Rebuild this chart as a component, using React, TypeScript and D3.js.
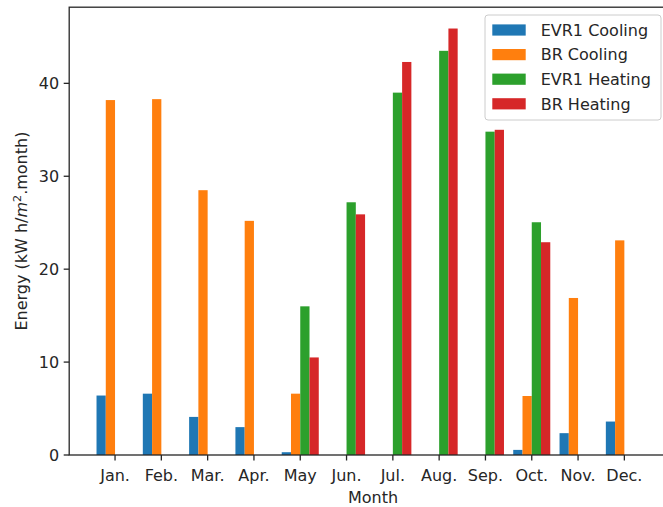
import React from 'react';
import * as d3 from 'd3';

const months = ['Jan.', 'Feb.', 'Mar.', 'Apr.', 'May', 'Jun.', 'Jul.', 'Aug.', 'Sep.', 'Oct.', 'Nov.', 'Dec.'];

const evr1Cooling = [6.4, 6.6, 4.1, 3.0, 0.3, 0, 0, 0, 0, 0.55, 2.35, 3.6];
const brCooling = [38.2, 38.3, 28.5, 25.2, 6.6, 0, 0, 0, 0, 6.35, 16.9, 23.1];
const evr1Heating = [0, 0, 0, 0, 16.0, 27.2, 39.0, 43.5, 34.8, 25.05, 0, 0];
const brHeating = [0, 0, 0, 0, 10.5, 25.9, 42.3, 45.9, 35.0, 22.9, 0, 0];

const yTicks = [0, 10, 20, 30, 40];

const seriesNames = ['EVR1 Cooling', 'BR Cooling', 'EVR1 Heating', 'BR Heating'];
const seriesData = [evr1Cooling, brCooling, evr1Heating, brHeating];
const colors = ['#1f77b4', '#ff7f0e', '#2ca02c', '#d62728'];

const W = 663;
const H = 507;
const FONT = 'DejaVu Sans, sans-serif';
const FS = 16;

const App = () => {
  const barW = 0.2;
  // bars sit at i-0.4 .. i+0.4, matplotlib style 5% margins
  const lo = -0.4 - 11.8 * 0.05;
  const hi = 11.4 + 11.8 * 0.05;
  const x = d3.scaleLinear().domain([lo, hi]).range([69.2, 670.2]);
  const yMax = d3.max(seriesData.flat())! * 1.05;
  const y = d3.scaleLinear().domain([0, yMax]).range([455, 7.2]);

  const left = x(lo);
  const right = x(hi);
  const top = y(yMax);
  const bottom = y(0);

  return (
    <svg width={W} height={H} style={{ position: 'absolute', left: 0, top: 0, background: '#fff' }} fontFamily={FONT}>
      {/* bars */}
      {seriesData.map((vals, s) => (
        <g key={seriesNames[s]}>
          {vals.map((v, i) => {
            if (v <= 0) return null;
            const x0 = x(i - 0.4 + s * barW);
            const x1 = x(i - 0.4 + (s + 1) * barW);
            return (
              <rect key={i} x={x0} y={y(v)} width={x1 - x0} height={y(0) - y(v)} fill={colors[s]} />
            );
          })}
        </g>
      ))}

      {/* spines */}
      <rect x={left} y={top} width={right - left} height={bottom - top} fill="none" stroke="#262626" strokeWidth={1.3} />

      {/* y ticks */}
      {yTicks.map(t => (
        <g key={t}>
          <line x1={left - 5.5} x2={left} y1={y(t)} y2={y(t)} stroke="#262626" strokeWidth={1.3} />
          <text x={left - 10} y={y(t)} dy="0.36em" textAnchor="end" fontSize={FS} fill="#262626">{t}</text>
        </g>
      ))}

      {/* x ticks */}
      {months.map((m, i) => (
        <g key={m}>
          <line x1={x(i)} x2={x(i)} y1={bottom} y2={bottom + 5.5} stroke="#262626" strokeWidth={1.3} />
          <text x={x(i)} y={481} textAnchor="middle" fontSize={FS} fill="#262626">{m}</text>
        </g>
      ))}

      <text x={373} y={502.5} textAnchor="middle" fontSize={FS} fill="#262626">Month</text>

      <text transform={`translate(27,${(top + bottom) / 2}) rotate(-90)`} textAnchor="middle" fontSize={FS} fill="#262626">
        <tspan>Energy (kW h/</tspan>
        <tspan fontStyle="italic">m</tspan>
        <tspan fontSize={FS * 0.7} dy={-6}>2</tspan>
        <tspan dy={6}>.month)</tspan>
      </text>

      {/* legend */}
      <rect x={485} y={15} width={176} height={105} rx={3} fill="#fff" fillOpacity={0.8} stroke="#cccccc" strokeWidth={1} />
      {seriesNames.map((name, s) => {
        const cy = 30 + s * 24.6;
        return (
          <g key={name}>
            <rect x={492.3} y={cy - 5.6} width={33.4} height={11.2} fill={colors[s]} />
            <text x={540.7} y={cy} dy="0.36em" fontSize={FS} fill="#262626">{name}</text>
          </g>
        );
      })}
    </svg>
  );
};

export default App;
